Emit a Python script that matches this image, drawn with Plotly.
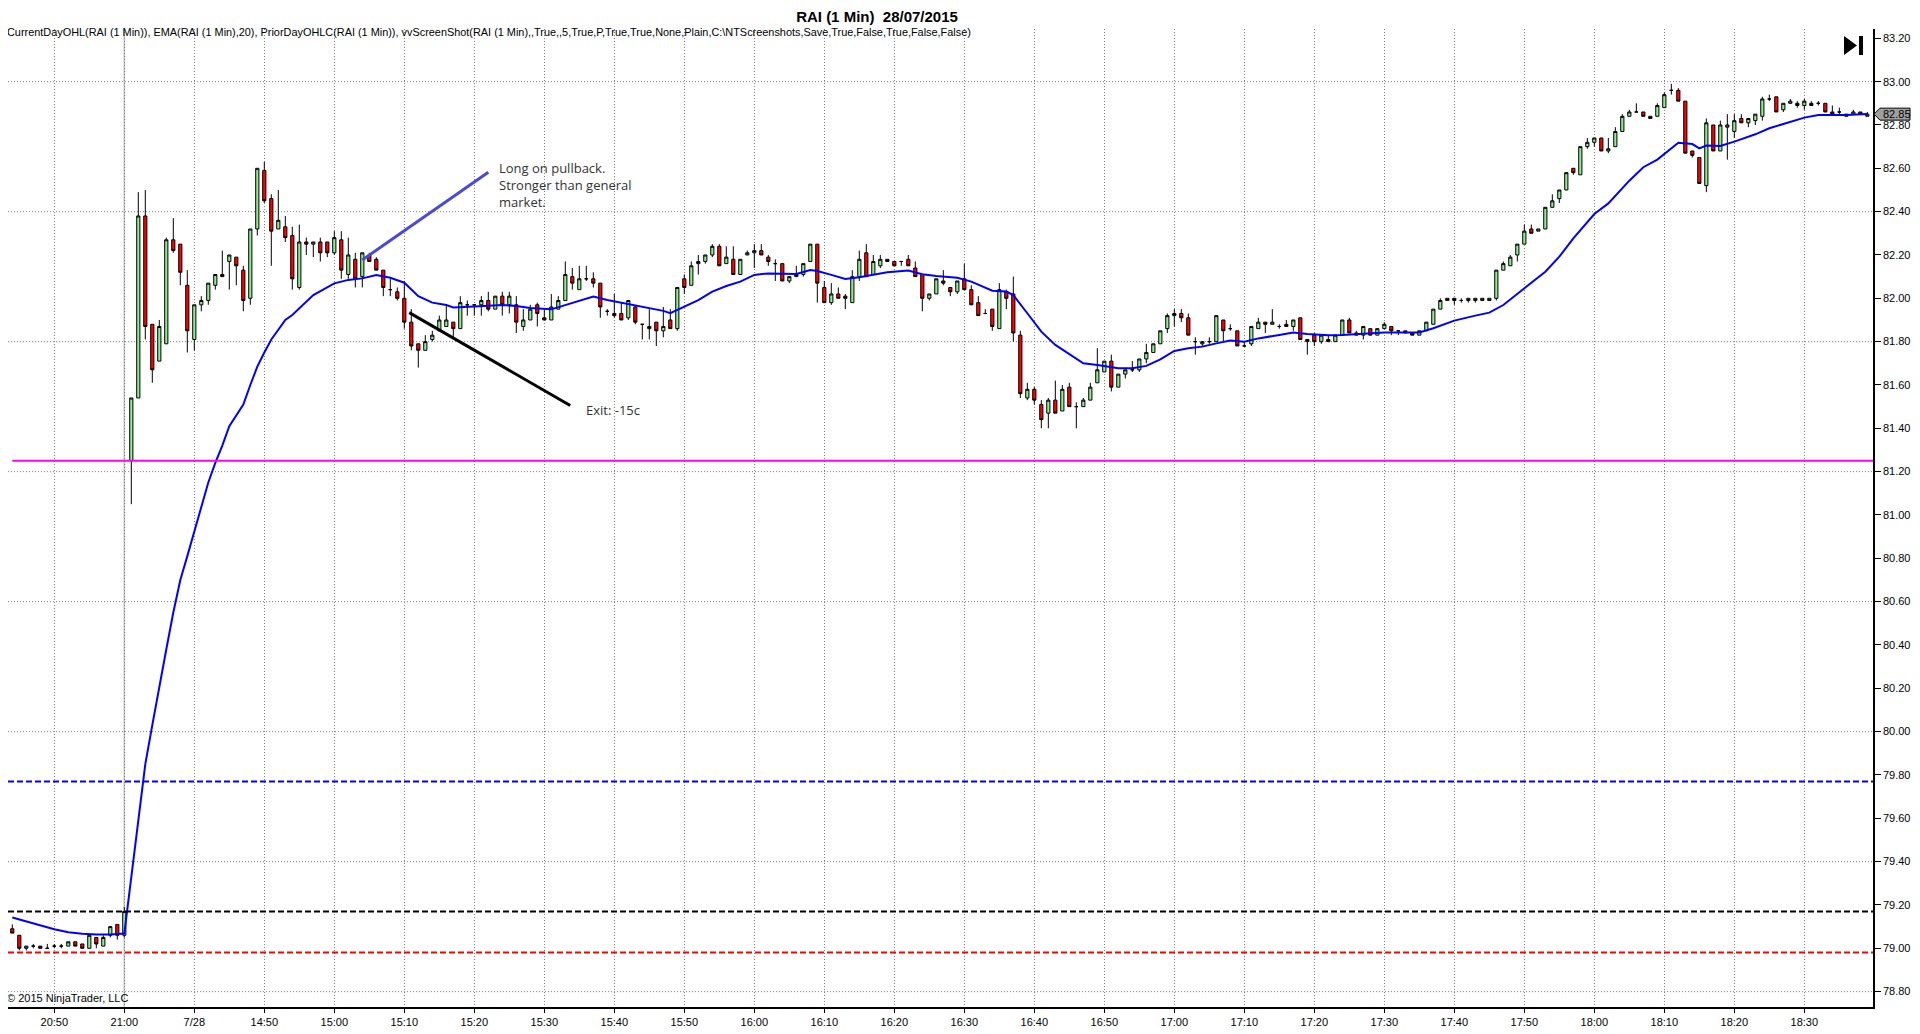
import plotly.graph_objects as go

# RAI 1-minute bars: 20:44-21:00 (27/07) then 14:31-18:39 (28/07)
opens = [79.09, 79.06, 79.00, 79.01, 79.01, 79.00, 79.01, 79.01, 79.01, 79.03, 79.02, 79.00, 79.05, 79.01, 79.06, 79.11, 79.06,
         81.25, 81.54, 82.38, 81.88, 81.71, 81.79, 82.27, 82.25, 82.06, 81.81, 81.97, 81.99, 82.06, 82.11, 82.17, 82.19, 82.13,
         82.00, 82.32, 82.59, 82.46, 82.32, 82.33, 82.29, 82.05, 82.26, 82.25, 82.26, 82.26, 82.21, 82.27, 82.11, 82.18, 82.10,
         82.20, 82.18, 82.13, 82.04, 82.03, 82.00, 81.89, 81.79, 81.76, 81.81, 81.85, 81.87, 81.89, 81.86, 81.97, 81.97, 81.97,
         81.99, 81.95, 82.01, 81.97, 81.97, 81.87, 81.90, 81.97, 81.91, 81.90, 81.95, 81.99, 82.10, 82.04, 82.09, 82.09, 82.07,
         81.94, 81.93, 81.93, 81.91, 81.96, 81.88, 81.86, 81.89, 81.85, 81.90, 81.86, 82.09, 82.06, 82.16, 82.17, 82.20, 82.24,
         82.16, 82.18, 82.11, 82.20, 82.21, 82.22, 82.19, 82.16, 82.16, 82.08, 82.10, 82.11, 82.17, 82.25, 82.05, 81.98, 82.02,
         82.01, 81.98, 82.10, 82.21, 82.11, 82.15, 82.18, 82.17, 82.17, 82.18, 82.14, 82.11, 82.00, 82.02, 82.08, 82.05, 82.03,
         82.09, 82.04, 81.98, 81.93, 81.95, 81.86, 82.03, 82.02, 81.83, 81.54, 81.58, 81.51, 81.47, 81.53, 81.48, 81.59, 81.50,
         81.50, 81.53, 81.61, 81.66, 81.71, 81.59, 81.65, 81.67, 81.67, 81.72, 81.75, 81.79, 81.86, 81.92, 81.93, 81.91, 81.80,
         81.79, 81.80, 81.80, 81.90, 81.86, 81.85, 81.78, 81.79, 81.86, 81.89, 81.88, 81.87, 81.88, 81.87, 81.91, 81.80, 81.83,
         81.80, 81.81, 81.80, 81.83, 81.90, 81.84, 81.83, 81.86, 81.83, 81.86, 81.87, 81.85, 81.84, 81.84, 81.83, 81.85, 81.88,
         81.95, 82.00, 82.00, 81.99, 81.99, 81.99, 81.99, 81.99, 82.00, 82.13, 82.15, 82.20, 82.25, 82.32, 82.31, 82.32, 82.42,
         82.46, 82.50, 82.60, 82.57, 82.70, 82.72, 82.74, 82.68, 82.70, 82.77, 82.84, 82.86, 82.86, 82.84, 82.84, 82.88, 82.96,
         82.96, 82.91, 82.68, 82.65, 82.52, 82.80, 82.68, 82.79, 82.77, 82.83, 82.81, 82.82, 82.84, 82.92, 82.93, 82.87, 82.90,
         82.90, 82.89, 82.90, 82.90, 82.90, 82.86, 82.86, 82.85, 82.85, 82.86, 82.84]
highs = [79.11, 79.06, 79.01, 79.02, 79.01, 79.02, 79.02, 79.02, 79.03, 79.03, 79.02, 79.06, 79.05, 79.06, 79.10, 79.11, 79.19,
         81.54, 82.49, 82.50, 81.88, 81.90, 82.28, 82.37, 82.25, 82.13, 81.97, 82.01, 82.07, 82.11, 82.22, 82.20, 82.19, 82.15,
         82.32, 82.60, 82.63, 82.48, 82.50, 82.38, 82.33, 82.34, 82.28, 82.26, 82.28, 82.26, 82.31, 82.31, 82.28, 82.21, 82.21,
         82.21, 82.19, 82.13, 82.09, 82.05, 82.08, 81.95, 81.79, 81.83, 81.85, 81.92, 81.97, 81.89, 82.01, 81.99, 81.97, 82.01,
         82.03, 82.01, 82.03, 82.03, 82.01, 81.95, 81.97, 81.98, 81.95, 82.02, 82.01, 82.17, 82.14, 82.15, 82.15, 82.12, 82.07,
         81.95, 82.02, 81.98, 81.99, 81.97, 81.88, 81.95, 81.89, 81.96, 81.95, 82.05, 82.11, 82.17, 82.20, 82.20, 82.25, 82.25,
         82.24, 82.24, 82.18, 82.22, 82.25, 82.25, 82.20, 82.18, 82.16, 82.10, 82.15, 82.16, 82.25, 82.25, 82.08, 82.07, 82.05,
         82.02, 82.13, 82.22, 82.25, 82.20, 82.20, 82.18, 82.17, 82.17, 82.20, 82.17, 82.11, 82.02, 82.09, 82.13, 82.05, 82.08,
         82.16, 82.06, 82.01, 81.95, 81.95, 82.07, 82.04, 82.10, 81.85, 81.61, 81.59, 81.53, 81.54, 81.62, 81.60, 81.61, 81.52,
         81.54, 81.61, 81.77, 81.71, 81.74, 81.65, 81.67, 81.71, 81.72, 81.79, 81.79, 81.85, 81.93, 81.95, 81.95, 81.93, 81.82,
         81.80, 81.82, 81.92, 81.90, 81.88, 81.85, 81.80, 81.87, 81.91, 81.89, 81.95, 81.88, 81.90, 81.90, 81.91, 81.81, 81.84,
         81.83, 81.83, 81.83, 81.90, 81.91, 81.85, 81.87, 81.86, 81.86, 81.89, 81.87, 81.85, 81.85, 81.84, 81.85, 81.89, 81.95,
         82.00, 82.00, 82.00, 82.00, 82.00, 82.00, 82.00, 82.00, 82.13, 82.17, 82.20, 82.25, 82.34, 82.34, 82.32, 82.42, 82.48,
         82.50, 82.58, 82.60, 82.70, 82.74, 82.74, 82.74, 82.74, 82.79, 82.85, 82.87, 82.90, 82.86, 82.84, 82.90, 82.95, 82.99,
         82.97, 82.91, 82.68, 82.65, 82.83, 82.80, 82.82, 82.85, 82.85, 82.85, 82.83, 82.85, 82.93, 82.94, 82.93, 82.90, 82.92,
         82.91, 82.92, 82.91, 82.91, 82.90, 82.89, 82.88, 82.85, 82.87, 82.86, 82.86]
lows = [79.07, 78.99, 78.99, 79.00, 79.00, 79.00, 79.00, 79.00, 79.01, 79.01, 79.00, 79.00, 79.00, 79.01, 79.05, 79.04, 79.05,
        81.05, 81.54, 81.81, 81.61, 81.71, 81.79, 82.21, 82.06, 81.75, 81.76, 81.94, 81.97, 82.04, 82.10, 82.04, 82.06, 81.94,
        81.97, 82.29, 82.44, 82.15, 82.32, 82.26, 82.04, 82.04, 82.20, 82.19, 82.17, 82.19, 82.20, 82.09, 82.09, 82.05, 82.05,
        82.17, 82.13, 82.01, 82.01, 81.99, 81.86, 81.76, 81.68, 81.76, 81.80, 81.85, 81.87, 81.82, 81.86, 81.92, 81.92, 81.92,
        81.94, 81.95, 81.92, 81.93, 81.84, 81.85, 81.90, 81.87, 81.90, 81.90, 81.95, 81.99, 82.04, 82.04, 82.08, 82.05, 81.91,
        81.92, 81.91, 81.90, 81.90, 81.88, 81.81, 81.81, 81.78, 81.82, 81.86, 81.85, 82.02, 82.06, 82.11, 82.16, 82.19, 82.15,
        82.16, 82.11, 82.11, 82.20, 82.14, 82.20, 82.15, 82.08, 82.08, 82.07, 82.10, 82.10, 82.17, 81.98, 81.98, 81.97, 82.00,
        81.95, 81.98, 82.08, 82.10, 82.11, 82.14, 82.17, 82.15, 82.15, 82.15, 82.10, 81.94, 81.99, 82.02, 82.06, 82.01, 82.02,
        82.04, 81.97, 81.92, 81.93, 81.85, 81.86, 81.95, 81.80, 81.54, 81.53, 81.51, 81.40, 81.40, 81.47, 81.48, 81.50, 81.40,
        81.50, 81.53, 81.61, 81.66, 81.57, 81.59, 81.63, 81.66, 81.66, 81.70, 81.75, 81.79, 81.84, 81.87, 81.89, 81.83, 81.74,
        81.78, 81.79, 81.80, 81.80, 81.85, 81.78, 81.78, 81.78, 81.86, 81.84, 81.88, 81.86, 81.87, 81.85, 81.81, 81.74, 81.78,
        81.79, 81.80, 81.80, 81.83, 81.84, 81.83, 81.81, 81.83, 81.83, 81.86, 81.83, 81.83, 81.84, 81.83, 81.83, 81.85, 81.88,
        81.95, 81.99, 81.97, 81.98, 81.98, 81.98, 81.99, 81.99, 81.99, 82.13, 82.15, 82.17, 82.25, 82.30, 82.31, 82.32, 82.42,
        82.44, 82.50, 82.57, 82.57, 82.69, 82.70, 82.68, 82.67, 82.70, 82.77, 82.84, 82.86, 82.84, 82.83, 82.84, 82.88, 82.94,
        82.91, 82.67, 82.65, 82.53, 82.49, 82.68, 82.68, 82.64, 82.74, 82.81, 82.79, 82.80, 82.82, 82.91, 82.86, 82.86, 82.90,
        82.88, 82.87, 82.89, 82.89, 82.86, 82.85, 82.85, 82.84, 82.85, 82.85, 82.84]
closes = [79.07, 79.00, 79.01, 79.01, 79.00, 79.00, 79.01, 79.01, 79.03, 79.01, 79.00, 79.06, 79.02, 79.05, 79.10, 79.06, 79.17,
          81.54, 82.38, 81.87, 81.67, 81.87, 82.27, 82.22, 82.12, 81.85, 81.97, 81.99, 82.07, 82.11, 82.10, 82.20, 82.15, 81.99,
          82.32, 82.60, 82.45, 82.31, 82.36, 82.28, 82.09, 82.26, 82.25, 82.26, 82.21, 82.21, 82.28, 82.13, 82.20, 82.09, 82.21,
          82.17, 82.13, 82.05, 82.04, 82.00, 81.89, 81.78, 81.76, 81.80, 81.83, 81.90, 81.90, 81.86, 81.98, 81.97, 81.97, 81.99,
          81.95, 82.01, 81.97, 82.01, 81.89, 81.90, 81.95, 81.93, 81.90, 81.96, 81.99, 82.11, 82.07, 82.09, 82.09, 82.07, 81.96,
          81.94, 81.92, 81.90, 81.99, 81.89, 81.88, 81.87, 81.85, 81.87, 81.86, 82.05, 82.05, 82.15, 82.17, 82.20, 82.24, 82.15,
          82.19, 82.11, 82.18, 82.21, 82.22, 82.20, 82.17, 82.16, 82.08, 82.10, 82.11, 82.16, 82.25, 82.07, 81.98, 82.02, 82.00,
          82.00, 82.10, 82.18, 82.10, 82.17, 82.18, 82.17, 82.15, 82.17, 82.15, 82.10, 82.00, 82.02, 82.09, 82.07, 82.03, 82.08,
          82.04, 81.97, 81.92, 81.93, 81.87, 82.04, 82.00, 81.84, 81.56, 81.58, 81.53, 81.44, 81.53, 81.47, 81.58, 81.50, 81.50,
          81.53, 81.59, 81.67, 81.71, 81.59, 81.65, 81.67, 81.67, 81.72, 81.75, 81.79, 81.85, 81.92, 81.93, 81.91, 81.83, 81.80,
          81.80, 81.80, 81.92, 81.85, 81.86, 81.78, 81.78, 81.87, 81.89, 81.88, 81.89, 81.87, 81.87, 81.90, 81.81, 81.81, 81.80,
          81.83, 81.80, 81.83, 81.90, 81.84, 81.83, 81.87, 81.83, 81.86, 81.88, 81.85, 81.85, 81.85, 81.83, 81.85, 81.89, 81.95,
          81.99, 81.99, 81.99, 81.99, 82.00, 82.00, 82.00, 82.00, 82.13, 82.16, 82.19, 82.25, 82.31, 82.30, 82.32, 82.42, 82.45,
          82.50, 82.58, 82.58, 82.70, 82.72, 82.74, 82.68, 82.69, 82.77, 82.84, 82.86, 82.86, 82.84, 82.83, 82.89, 82.94, 82.96,
          82.91, 82.67, 82.66, 82.53, 82.81, 82.68, 82.80, 82.80, 82.82, 82.81, 82.83, 82.85, 82.92, 82.92, 82.86, 82.90, 82.91,
          82.89, 82.91, 82.89, 82.90, 82.86, 82.85, 82.86, 82.84, 82.86, 82.85, 82.85]

# EMA(20) (bar index, value)
ema_idx = [0, 2, 4, 6, 8, 10, 12, 14, 16, 17, 18, 19, 20, 21, 22, 23, 24, 25, 26, 27, 28, 29, 30, 31, 32, 33, 34, 35,
           36, 37, 38, 39, 40, 43, 46, 48, 50, 52, 54, 56, 58, 60, 62, 63, 66, 70, 72, 74, 77, 79, 81, 83, 85, 87, 89,
           91, 93, 94, 96, 98, 100, 102, 104, 106, 108, 110, 112, 114, 115, 117, 119, 121, 123, 125, 128, 130, 132, 135,
           137, 140, 142, 143, 145, 147, 149, 151, 153, 155, 156, 158, 160, 162, 164, 166, 168, 170, 172, 174, 176, 178,
           181, 183, 185, 188, 190, 193, 196, 199, 201, 203, 206, 209, 211, 213, 216, 219, 221, 223, 226, 228, 231, 233,
           235, 236, 238, 240, 241, 242, 244, 246, 249, 251, 253, 256, 258, 262, 265]
ema_val = [79.142, 79.124, 79.104, 79.088, 79.074, 79.067, 79.064, 79.064, 79.068, 79.33, 79.58, 79.85, 80.03, 80.21,
           80.38, 80.55, 80.70, 80.81, 80.92, 81.04, 81.15, 81.24, 81.32, 81.41, 81.46, 81.51, 81.60, 81.685, 81.75, 81.81,
           81.855, 81.90, 81.923, 82.015, 82.069, 82.085, 82.092, 82.108, 82.095, 82.072, 82.01, 81.98, 81.969, 81.958,
           81.962, 81.969, 81.965, 81.955, 81.949, 81.969, 81.989, 82.008, 81.992, 81.98, 81.969, 81.954, 81.942, 81.931,
           81.962, 81.992, 82.031, 82.057, 82.077, 82.108, 82.115, 82.115, 82.112, 82.131, 82.126, 82.108, 82.089, 82.097,
           82.108, 82.12, 82.128, 82.111, 82.103, 82.095, 82.077, 82.035, 82.031, 82.015, 81.931, 81.846, 81.785, 81.743,
           81.70, 81.692, 81.688, 81.677, 81.677, 81.688, 81.718, 81.757, 81.769, 81.777, 81.792, 81.805, 81.80, 81.815,
           81.831, 81.842, 81.835, 81.829, 81.831, 81.835, 81.842, 81.842, 81.842, 81.862, 81.897, 81.92, 81.934, 81.969,
           82.046, 82.123, 82.192, 82.277, 82.389, 82.438, 82.543, 82.605, 82.64, 82.666, 82.718, 82.712, 82.692, 82.705,
           82.703, 82.723, 82.757, 82.785, 82.805, 82.834, 82.846, 82.846, 82.851]

tick_pos = [6, 16, 26, 36, 46, 56, 66, 76, 86, 96, 106, 116, 126, 136, 146, 156, 166, 176, 186, 196, 206, 216, 226,
            236, 246, 256]
tick_text = ["20:50", "21:00", "7/28", "14:50", "15:00", "15:10", "15:20", "15:30", "15:40", "15:50", "16:00",
             "16:10", "16:20", "16:30", "16:40", "16:50", "17:00", "17:10", "17:20", "17:30", "17:40", "17:50",
             "18:00", "18:10", "18:20", "18:30"]
session_break = 16

current_open = 81.25
prior_high = 79.77
prior_close = 79.17
prior_low = 78.98
grid_levels = [78.80, 79.40, 80.00, 80.60, 81.20, 81.80, 82.40, 83.00]

# hand-drawn chart notes (bar index, price)
long_line = [(50, 82.177), (68, 82.582)]
exit_line = [(56.7, 81.934), (79.7, 81.505)]
long_note = (69.3, 82.65, "Long on pullback.<br>Stronger than general<br>market.")
exit_note = (81.7, 81.485, "Exit: -15c")

indicators = ("CurrentDayOHL(RAI (1 Min)), EMA(RAI (1 Min),20), PriorDayOHLC(RAI (1 Min)), "
              "vvScreenShot(RAI (1 Min),,True,,5,True,P,True,True,None,Plain,C:\\NTScreenshots,Save,True,False,True,False,False)")

bars = list(range(len(closes)))
last_close = closes[-1]
# the page sits 8px in from the top-left corner, so the layout is laid out 8px up and left
x_range = [-0.614, 265.81]
y_range = [78.729, 83.243]
axis_font = dict(family="Liberation Sans, Arial, sans-serif", size=11, color="black")

fig = go.Figure()
fig.add_trace(go.Candlestick(
    x=bars, open=opens, high=highs, low=lows, close=closes,
    increasing=dict(fillcolor="#90ee90", line=dict(color="black", width=1)),
    decreasing=dict(fillcolor="#ff0000", line=dict(color="black", width=1)),
    whiskerwidth=0, showlegend=False, hoverinfo="skip"))
fig.add_trace(go.Scatter(x=ema_idx, y=ema_val, mode="lines", line=dict(color="#0000ff", width=2),
                         showlegend=False, hoverinfo="skip"))

shapes = []
for lv in grid_levels:
    shapes.append(dict(type="line", xref="paper", x0=0, x1=1, yref="y", y0=lv, y1=lv, layer="below",
                       line=dict(color="#808080", width=1, dash="1px,2px")))
shapes.append(dict(type="line", xref="x", x0=session_break, x1=session_break, yref="paper", y0=0, y1=1,
                   layer="below", line=dict(color="#c0c0c0", width=1.5)))
shapes.append(dict(type="line", xref="x", x0=0, x1=x_range[1], yref="y", y0=current_open, y1=current_open,
                   line=dict(color="#ff00ff", width=2)))
for lv, col in [(prior_high, "#0000ff"), (prior_close, "black"), (prior_low, "#ff0000")]:
    shapes.append(dict(type="line", xref="paper", x0=0, x1=1, yref="y", y0=lv, y1=lv,
                       line=dict(color=col, width=2, dash="6px,3px")))
shapes.append(dict(type="line", xref="x", yref="y", x0=long_line[0][0], y0=long_line[0][1],
                   x1=long_line[1][0], y1=long_line[1][1], line=dict(color="#4a4ad8", width=3)))
shapes.append(dict(type="line", xref="x", yref="y", x0=exit_line[0][0], y0=exit_line[0][1],
                   x1=exit_line[1][0], y1=exit_line[1][1], line=dict(color="black", width=3)))
# last price marker
shapes.append(dict(type="path", xref="paper", xsizemode="pixel", xanchor=1, yref="y", ysizemode="pixel",
                   yanchor=last_close, path="M 1,0 L 7,6 L 37,6 L 37,-6 L 7,-6 Z",
                   fillcolor="#a0a0a0", line=dict(color="black", width=1)))
# "scroll to end" icon
shapes.append(dict(type="path", xref="paper", xsizemode="pixel", xanchor=1, yref="paper", ysizemode="pixel",
                   yanchor=1, path="M -29,-7 L -16,-16.5 L -29,-26 Z", fillcolor="black", line=dict(width=0)))
shapes.append(dict(type="rect", xref="paper", xsizemode="pixel", xanchor=1, x0=-14, x1=-10, yref="paper",
                   ysizemode="pixel", yanchor=1, y0=-7, y1=-26, fillcolor="black", line=dict(width=0)))

note_font = dict(family="Open Sans, Noto Sans, sans-serif", size=13, color="#333333")
annotations = [
    dict(x=long_note[0], y=long_note[1], xref="x", yref="y", text=long_note[2], showarrow=False,
         xanchor="left", yanchor="top", align="left", font=note_font),
    dict(x=exit_note[0], y=exit_note[1], xref="x", yref="y", text=exit_note[2], showarrow=False,
         xanchor="left", yanchor="middle", align="left", font=note_font),
    dict(x=0, y=1, xref="paper", yref="paper", text=indicators, showarrow=False, xanchor="left",
         yanchor="middle", xshift=-3, yshift=-3, font=dict(family="Liberation Sans, Arial", size=10.9, color="black")),
    dict(x=0, y=0, xref="paper", yref="paper", text="© 2015 NinjaTrader, LLC", showarrow=False,
         xanchor="left", yanchor="bottom", xshift=-3, yshift=1, font=axis_font),
    dict(x=1, y=last_close, xref="paper", yref="y", text=f"{last_close:.2f}", showarrow=False,
         xanchor="left", yanchor="middle", xshift=8, font=axis_font),
]

fig.update_layout(
    width=1920, height=1034,
    margin=dict(l=0, r=55, t=21, b=35),
    paper_bgcolor="white", plot_bgcolor="white",
    title=dict(text="<b>RAI (1 Min)  28/07/2015</b>", x=869 / 1920, xanchor="center", y=1 - 3 / 1034,
               yanchor="top", pad=dict(t=0, b=0),
               font=dict(family="Liberation Sans Narrow, Arial Narrow, Liberation Sans", size=15, color="black")),
    xaxis=dict(range=x_range, tickmode="array", tickvals=tick_pos, ticktext=tick_text,
               showgrid=True, gridcolor="#808080", gridwidth=1, griddash="1px,2px", zeroline=False,
               showline=True, linecolor="black", linewidth=1.5, ticks="outside", ticklen=4, tickcolor="black",
               tickfont=axis_font, rangeslider=dict(visible=False), fixedrange=True),
    yaxis=dict(range=y_range, side="right", dtick=0.2, tick0=78.8, tickformat=".2f", showgrid=False,
               zeroline=False, showline=True, linecolor="black", linewidth=1.5, ticks="outside", ticklen=6,
               tickcolor="black", tickfont=axis_font),
    shapes=shapes, annotations=annotations,
    boxgap=0.35,
)

fig.write_html("out.html")
